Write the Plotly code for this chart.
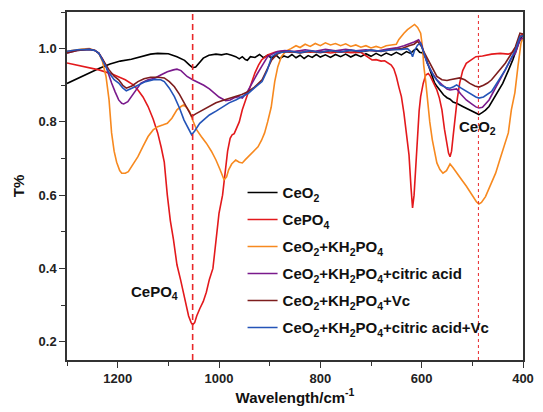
import plotly.graph_objects as go

# ---------------- data ----------------
ceo2_x = [1300, 1285, 1270, 1255, 1237, 1215, 1195, 1173, 1155, 1135, 1121, 1100, 1083, 1068, 1058, 1052, 1046, 1038,
          1031, 1020, 1006, 995, 985, 975, 967, 960, 954, 948, 944, 938, 929, 920, 912, 904, 896, 888, 880, 872, 864,
          856, 848, 840, 832, 824, 816, 808, 800, 790, 780, 770, 760, 750, 740, 730, 720, 710, 700, 690, 680, 670,
          660, 650, 640, 630, 622, 615, 610, 604, 598, 592, 586, 580, 575, 570, 563, 557, 550, 544, 538, 530, 519,
          510, 500, 493, 487, 480, 474, 467, 460, 454, 448, 440, 429, 420, 410, 403, 400]
ceo2_y = [0.905, 0.915, 0.925, 0.935, 0.946, 0.958, 0.966, 0.971, 0.978, 0.985, 0.987, 0.986, 0.978, 0.968, 0.955,
          0.948, 0.950, 0.962, 0.974, 0.982, 0.985, 0.983, 0.986, 0.982, 0.978, 0.972, 0.978, 0.970, 0.968, 0.978,
          0.976, 0.984, 0.975, 0.982, 0.974, 0.983, 0.973, 0.980, 0.976, 0.984, 0.975, 0.982, 0.973, 0.981, 0.976,
          0.984, 0.977, 0.983, 0.976, 0.984, 0.978, 0.985, 0.977, 0.984, 0.978, 0.986, 0.979, 0.987, 0.980, 0.988,
          0.982, 0.990, 0.983, 0.992, 0.987, 0.996, 1.000, 0.990, 0.988, 0.975, 0.950, 0.925, 0.908, 0.897, 0.885,
          0.874, 0.866, 0.862, 0.854, 0.850, 0.842, 0.836, 0.830, 0.824, 0.820, 0.826, 0.832, 0.842, 0.858, 0.872,
          0.887, 0.905, 0.940, 0.970, 1.010, 1.033, 1.035]

cepo4_x = [1300, 1270, 1237, 1210, 1185, 1170, 1160, 1150, 1140, 1130, 1121, 1114, 1108, 1102, 1096, 1090, 1083, 1076,
           1069, 1060, 1055, 1052, 1048, 1044, 1038, 1031, 1025, 1019, 1012, 1006, 1000, 993, 988, 983, 978, 974, 970,
           967, 960, 954, 945, 937, 929, 922, 916, 904, 890, 877, 860, 840, 820, 800, 780, 760, 740, 720, 712, 705,
           698, 690, 680, 673, 666, 660, 655, 650, 645, 640, 635, 630, 625, 621, 618, 615, 612, 608, 605, 602, 597,
           592, 587, 583, 576, 570, 565, 560, 555, 551, 547, 544, 541, 538, 535, 530, 525, 519, 512, 500, 493, 480,
           462, 445, 429, 420, 416, 410, 406, 400]
cepo4_y = [0.961, 0.952, 0.942, 0.930, 0.915, 0.902, 0.887, 0.868, 0.842, 0.808, 0.770, 0.730, 0.690, 0.600, 0.530,
           0.480, 0.410, 0.370, 0.330, 0.270, 0.252, 0.246, 0.252, 0.270, 0.290, 0.310, 0.335, 0.370, 0.400, 0.480,
           0.550, 0.600, 0.660, 0.720, 0.755, 0.765, 0.768, 0.778, 0.800, 0.833, 0.869, 0.905, 0.934, 0.955, 0.969,
           0.983, 0.990, 0.993, 0.990, 0.994, 0.990, 0.993, 0.988, 0.992, 0.989, 0.990, 0.983, 0.975, 0.969, 0.970,
           0.966, 0.967, 0.960, 0.955, 0.945, 0.924, 0.895, 0.869, 0.824, 0.770, 0.710, 0.620, 0.565, 0.600, 0.680,
           0.760, 0.830, 0.869, 0.905, 0.928, 0.932, 0.925, 0.905, 0.887, 0.865, 0.833, 0.780, 0.742, 0.715, 0.705,
           0.720, 0.760, 0.805, 0.860, 0.906, 0.940, 0.960, 0.972, 0.978, 0.980, 0.985, 0.987, 0.985, 0.990, 0.996,
           1.015, 1.033, 1.040]

kh2po4_x = [1300, 1285, 1270, 1256, 1245, 1237, 1230, 1223, 1217, 1212, 1207, 1202, 1196, 1192, 1185, 1179, 1170,
            1160, 1150, 1140, 1130, 1121, 1110, 1102, 1093, 1083, 1075, 1070, 1064, 1058, 1052, 1044, 1035, 1025,
            1015, 1006, 998, 990, 985, 981, 975, 967, 960, 954, 948, 942, 932, 923, 916, 910, 904, 897, 890, 884,
            877, 868, 858, 848, 840, 830, 820, 810, 800, 790, 780, 770, 760, 750, 740, 730, 720, 710, 700, 690, 680,
            670, 660, 650, 645, 640, 635, 628, 621, 614, 608, 602, 598, 596, 592, 589, 584, 579, 574, 570, 564, 558,
            551, 544, 538, 531, 520, 512, 506, 498, 492, 487, 482, 474, 465, 454, 445, 435, 429, 423, 416, 410, 404,
            400]
kh2po4_y = [0.993, 0.997, 0.999, 1.000, 0.995, 0.987, 0.965, 0.924, 0.860, 0.770, 0.720, 0.690, 0.667, 0.660, 0.660,
            0.664, 0.683, 0.705, 0.733, 0.760, 0.778, 0.787, 0.792, 0.796, 0.810, 0.833, 0.842, 0.846, 0.840, 0.828,
            0.805, 0.778, 0.760, 0.742, 0.720, 0.696, 0.670, 0.642, 0.650, 0.669, 0.685, 0.696, 0.690, 0.688, 0.697,
            0.705, 0.718, 0.732, 0.750, 0.770, 0.800, 0.840, 0.910, 0.950, 0.978, 0.993, 1.000, 1.008, 1.003, 1.012,
            1.006, 1.014, 1.008, 1.016, 1.010, 1.014, 1.008, 1.013, 1.006, 1.010, 1.004, 1.008, 1.002, 1.006, 1.002,
            1.008, 1.010, 1.012, 1.025, 1.035, 1.042, 1.052, 1.060, 1.066, 1.058, 1.042, 1.000, 0.955, 0.910, 0.860,
            0.800, 0.751, 0.715, 0.688, 0.670, 0.660, 0.667, 0.685, 0.675, 0.660, 0.640, 0.625, 0.612, 0.595, 0.582,
            0.576, 0.580, 0.596, 0.625, 0.660, 0.700, 0.742, 0.770, 0.833, 0.880, 0.951, 1.015, 1.030]

citric_x = [1300, 1280, 1256, 1245, 1237, 1230, 1223, 1217, 1212, 1205, 1198, 1192, 1188, 1180, 1173, 1163, 1154,
            1140, 1127, 1115, 1102, 1090, 1083, 1075, 1063, 1052, 1044, 1030, 1019, 1010, 1000, 992, 987, 978, 970,
            962, 954, 945, 935, 925, 916, 910, 904, 895, 885, 870, 850, 830, 810, 790, 770, 750, 730, 710, 690, 670,
            650, 635, 625, 615, 606, 600, 595, 589, 580, 570, 560, 550, 544, 537, 531, 522, 512, 500, 493, 487, 480,
            467, 455, 442, 430, 420, 415, 406, 400]
citric_y = [0.988, 0.995, 0.998, 0.995, 0.987, 0.972, 0.951, 0.925, 0.906, 0.882, 0.860, 0.851, 0.849, 0.855, 0.869,
            0.888, 0.906, 0.915, 0.919, 0.928, 0.937, 0.942, 0.944, 0.940, 0.924, 0.915, 0.910, 0.900, 0.890, 0.880,
            0.868, 0.862, 0.858, 0.860, 0.866, 0.869, 0.865, 0.880, 0.906, 0.930, 0.951, 0.965, 0.978, 0.985, 0.992,
            0.995, 0.992, 0.997, 0.993, 0.998, 0.994, 0.998, 0.994, 0.997, 0.993, 0.998, 1.002, 1.008, 1.012, 1.018,
            1.024, 1.010, 0.985, 0.960, 0.935, 0.915, 0.902, 0.890, 0.887, 0.888, 0.890, 0.875, 0.860, 0.848, 0.841,
            0.838, 0.840, 0.860, 0.892, 0.924, 0.955, 0.980, 0.987, 1.024, 1.030]

vc_x = [1300, 1280, 1256, 1245, 1237, 1227, 1217, 1207, 1198, 1190, 1183, 1172, 1160, 1148, 1135, 1120, 1108, 1098,
        1088, 1078, 1069, 1060, 1054, 1046, 1038, 1031, 1019, 1006, 990, 967, 955, 942, 930, 915, 905, 896, 885, 877,
        860, 840, 820, 800, 780, 760, 740, 720, 700, 680, 660, 640, 625, 615, 608, 600, 595, 589, 580, 570, 560, 550,
        544, 535, 525, 515, 505, 495, 487, 478, 470, 462, 450, 435, 425, 415, 406, 400]
vc_y = [0.988, 0.995, 0.998, 0.995, 0.987, 0.965, 0.942, 0.925, 0.915, 0.900, 0.892, 0.898, 0.910, 0.918, 0.922,
        0.922, 0.920, 0.910, 0.896, 0.875, 0.852, 0.830, 0.815, 0.822, 0.828, 0.833, 0.842, 0.852, 0.860, 0.869,
        0.875, 0.883, 0.895, 0.915, 0.945, 0.969, 0.985, 0.990, 0.992, 0.988, 0.993, 0.989, 0.994, 0.990, 0.995,
        0.991, 0.996, 0.992, 0.997, 1.000, 1.008, 1.012, 1.020, 1.005, 0.990, 0.974, 0.950, 0.924, 0.915, 0.913,
        0.915, 0.918, 0.920, 0.915, 0.905, 0.898, 0.895, 0.900, 0.906, 0.915, 0.935, 0.960, 0.982, 1.005, 1.042,
        1.040]

both_x = [1300, 1280, 1256, 1245, 1237, 1227, 1217, 1207, 1198, 1190, 1183, 1172, 1160, 1145, 1127, 1115, 1108, 1098,
          1088, 1078, 1069, 1060, 1054, 1048, 1038, 1028, 1019, 1005, 992, 980, 967, 955, 942, 930, 915, 905, 896, 885,
          877, 860, 840, 820, 800, 780, 760, 740, 720, 700, 680, 660, 640, 628, 622, 618, 614, 608, 602, 596, 589,
          576, 563, 552, 544, 537, 531, 522, 512, 500, 493, 487, 478, 462, 450, 435, 425, 415, 406, 400]
both_y = [0.993, 0.997, 0.998, 0.995, 0.987, 0.960, 0.934, 0.915, 0.906, 0.893, 0.885, 0.892, 0.901, 0.910, 0.916,
          0.915, 0.910, 0.892, 0.869, 0.838, 0.805, 0.780, 0.765, 0.775, 0.796, 0.808, 0.819, 0.830, 0.842, 0.852,
          0.860, 0.868, 0.878, 0.893, 0.910, 0.940, 0.978, 0.988, 0.990, 0.993, 0.989, 0.994, 0.990, 0.995, 0.991,
          0.996, 0.992, 0.996, 0.993, 0.997, 0.998, 1.000, 0.992, 0.978, 0.995, 1.010, 1.015, 0.990, 0.960, 0.925,
          0.901, 0.894, 0.892, 0.896, 0.901, 0.892, 0.883, 0.872, 0.868, 0.865, 0.868, 0.883, 0.910, 0.942, 0.970,
          0.996, 1.033, 1.035]

series_names = ["CeO<sub>2</sub>", "CePO<sub>4</sub>", "CeO<sub>2</sub>+KH<sub>2</sub>PO<sub>4</sub>",
                "CeO<sub>2</sub>+KH<sub>2</sub>PO<sub>4</sub>+citric acid",
                "CeO<sub>2</sub>+KH<sub>2</sub>PO<sub>4</sub>+Vc",
                "CeO<sub>2</sub>+KH<sub>2</sub>PO<sub>4</sub>+citric acid+Vc"]
series_colors = ["#000000", "#e3191c", "#f7891f", "#7a1a8c", "#7d1d1d", "#2454b8"]
series_x = [ceo2_x, cepo4_x, kh2po4_x, citric_x, vc_x, both_x]
series_y = [ceo2_y, cepo4_y, kh2po4_y, citric_y, vc_y, both_y]

cepo4_peak = 1052   # dashed marker
ceo2_peak = 488     # dotted marker

FONT = "Liberation Sans, Arial, sans-serif"

fig = go.Figure()
for i, (name, col, xs, ys) in enumerate(zip(series_names, series_colors, series_x, series_y)):
    fig.add_trace(go.Scatter(x=xs, y=ys, mode="lines", name=name, legendgroup=f"g{i}",
                             line=dict(color=col, width=1.6)))

fig.add_vline(x=cepo4_peak, line=dict(color="#e8282b", width=1.6, dash="6px,4px"))
fig.add_vline(x=ceo2_peak, line=dict(color="#e8282b", width=1, dash="dot"))

fig.add_annotation(x=1127, y=0.333, text="CePO<sub>4</sub>", showarrow=False,
                   font=dict(family=FONT, size=15, color="#111", weight="bold"))
fig.add_annotation(x=489, y=0.785, text="CeO<sub>2</sub>", showarrow=False,
                   font=dict(family=FONT, size=15, color="#111", weight="bold"))

axis_common = dict(showline=True, linecolor="#333", linewidth=1.5, mirror=True,
                   ticks="outside", ticklen=6, tickwidth=1.3, tickcolor="#333",
                   showgrid=False, zeroline=False,
                   tickfont=dict(family=FONT, size=13, color="#222", weight="bold"))

fig.update_layout(
    width=543, height=412,
    margin=dict(l=67, r=9, t=12, b=52),
    paper_bgcolor="white", plot_bgcolor="white",
    showlegend=True,
    legend=dict(x=0.385, y=0.528, xanchor="left", yanchor="top",
                bgcolor="rgba(0,0,0,0)", borderwidth=0,
                font=dict(family=FONT, size=15, color="#111", weight="bold"),
                tracegroupgap=4.5),
    xaxis=dict(range=[1300, 400], dtick=200, tick0=400,
               minor=dict(dtick=100, tick0=400, ticks="outside", ticklen=4, tickcolor="#333"),
               title=dict(text="Wavelength/cm<sup>-1</sup>", standoff=4,
                          font=dict(family=FONT, size=15, color="#111", weight="bold")),
               **axis_common),
    yaxis=dict(range=[0.15, 1.10], dtick=0.2, tick0=0.2, tickformat=".1f",
               minor=dict(dtick=0.1, tick0=0.2, ticks="outside", ticklen=4, tickcolor="#333"),
               title=dict(text="T%", standoff=10,
                          font=dict(family=FONT, size=15, color="#111", weight="bold")),
               **axis_common),
)

fig.write_html("out.html")
